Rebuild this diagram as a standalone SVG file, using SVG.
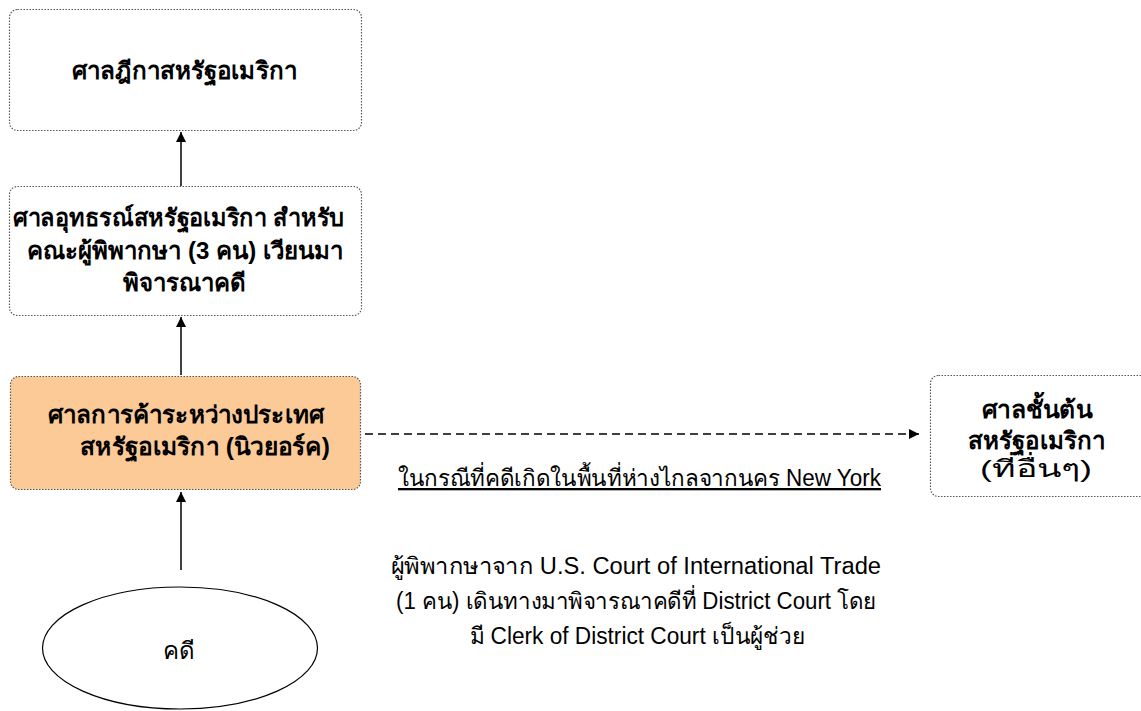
<svg xmlns="http://www.w3.org/2000/svg" width="1141" height="711" viewBox="0 0 1141 711">
<defs>
<style>
.box{fill:#ffffff;stroke:#555;stroke-width:1.2;stroke-dasharray:1.5 1.5}
.hl{fill:#FCCA97}
.t{font-family:"Liberation Sans",Tahoma,sans-serif;font-size:24px;fill:#000;text-anchor:middle}
.b{font-weight:bold}
.s{text-anchor:start}
.p{font-family:"Liberation Sans",Tahoma,sans-serif;font-size:23px;fill:#000;text-anchor:middle}
.c{stroke:#000;stroke-width:1.5;fill:none}
</style>
<marker id="ah" viewBox="0 0 10 10" refX="10" refY="5" markerWidth="10" markerHeight="10" markerUnits="userSpaceOnUse" orient="auto">
<path d="M0,0 L10,5 L0,10 z" fill="#000"/>
</marker>
</defs>
<rect width="1141" height="711" fill="#fff"/>
<g id="connectors">
<line class="c" x1="181" y1="186" x2="181" y2="132" marker-end="url(#ah)"/>
<line class="c" x1="181" y1="375" x2="181" y2="317" marker-end="url(#ah)"/>
<line class="c" x1="181" y1="570" x2="181" y2="492" marker-end="url(#ah)"/>
<line class="c" x1="365" y1="434" x2="919" y2="434" stroke-dasharray="8 5" marker-end="url(#ah)"/>
</g>
<g id="n1">
<rect class="box" x="9.5" y="9.5" width="352" height="121" rx="8"/>
<text class="t b" x="184.5" y="79" textLength="225" lengthAdjust="spacingAndGlyphs">ศาลฎีกาสหรัฐอเมริกา</text>
</g>
<g id="n2">
<rect class="box" x="9.5" y="186.5" width="352" height="129" rx="8"/>
<text class="t b" x="178.5" y="226" textLength="331" lengthAdjust="spacingAndGlyphs">ศาลอุทธรณ์สหรัฐอเมริกา สำหรับ</text>
<text class="t b" x="185" y="259" textLength="316" lengthAdjust="spacingAndGlyphs">คณะผู้พิพากษา (3 คน) เวียนมา</text>
<text class="t b" x="184" y="291" textLength="123" lengthAdjust="spacingAndGlyphs">พิจารณาคดี</text>
</g>
<g id="n3">
<rect class="box hl" x="10.5" y="376.5" width="350" height="113" rx="8"/>
<text class="t b s" x="48" y="423" textLength="276" lengthAdjust="spacingAndGlyphs">ศาลการค้าระหว่างประเทศ</text>
<text class="t b s" x="80" y="455" textLength="250" lengthAdjust="spacingAndGlyphs">สหรัฐอเมริกา (นิวยอร์ค)</text>
</g>
<g id="n4">
<rect class="box" x="930.5" y="375.5" width="220" height="121" rx="8"/>
<text class="t b" x="1037" y="418" textLength="110" lengthAdjust="spacingAndGlyphs">ศาลชั้นต้น</text>
<text class="t b" x="1036.5" y="449" textLength="137" lengthAdjust="spacingAndGlyphs">สหรัฐอเมริกา</text>
<text class="t" x="1036" y="477" textLength="112" lengthAdjust="spacingAndGlyphs">(ที่อื่นๆ)</text>
</g>
<g id="n5">
<ellipse cx="180" cy="648" rx="137.5" ry="61" fill="#fff" stroke="#000" stroke-width="1.2"/>
<text class="t" x="179" y="659" textLength="32" lengthAdjust="spacingAndGlyphs">คดี</text>
</g>
<g id="labels">
<text class="p" x="639.5" y="486" text-decoration="underline" textLength="483" lengthAdjust="spacingAndGlyphs">ในกรณีที่คดีเกิดในพื้นที่ห่างไกลจากนคร New York</text>
<text class="p" x="636" y="574" textLength="490" lengthAdjust="spacingAndGlyphs">ผู้พิพากษาจาก U.S. Court of International Trade</text>
<text class="p" x="636" y="609" textLength="480" lengthAdjust="spacingAndGlyphs">(1 คน) เดินทางมาพิจารณาคดีที่ District Court โดย</text>
<text class="p" x="637" y="644" textLength="335" lengthAdjust="spacingAndGlyphs">มี Clerk of District Court เป็นผู้ช่วย</text>
</g>
</svg>
